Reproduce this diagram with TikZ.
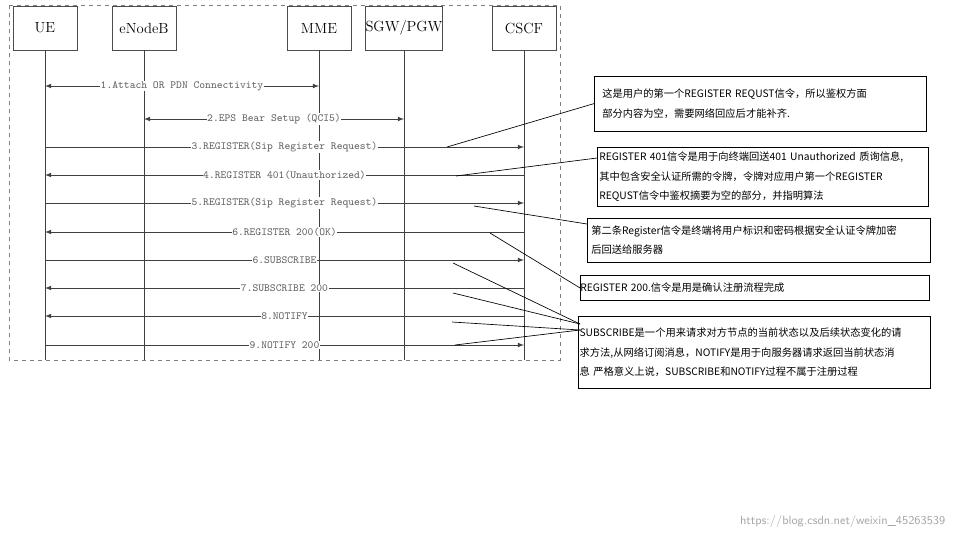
\documentclass[tikz,border=0pt]{standalone}
\usepackage{fontspec}
\newfontfamily\cjk{Noto Sans CJK SC}
\usetikzlibrary{arrows}
\usetikzlibrary{shapes}

\begin{document}
\begin{tikzpicture}[x = 0.75pt, y = -0.75pt, font=\ttfamily]
\tikzstyle{EntStyle} = [draw = black!70, minimum width = 48pt, minimum height = 33pt, font = \rmfamily\fontsize{11}{12}\selectfont, inner sep = 0pt]
\tikzstyle{MsgStyle} = [black!75, line width = 0.6pt, >=latex]
\tikzstyle{LblStyle} = [fill = white, text = black!60, font = \ttfamily\fontsize{8.2}{9}\selectfont, inner sep = 0.5pt]
\tikzstyle{NoteStyle} = [draw, anchor = north west, align = left, font = \cjk\fontsize{7.7}{14.5}\selectfont, inner ysep = 3pt, inner xsep = 0pt]
\tikzstyle{LinkStyle} = [line width = 0.5pt]
\useasboundingbox (0,0) rectangle (960,540);
\draw [black!50, dashed] (9,5) rectangle (560,360);
% entities
\node[EntStyle] (ue) at (45,28) {UE};
\node[EntStyle] (enb) at (144,28) {eNodeB};
\node[EntStyle] (mme) at (319,28) {MME};
\node[EntStyle] (sgw) at (404,28) {SGW/PGW};
\node[EntStyle] (cscf) at (524,28) {CSCF};
\foreach \e/\x in {ue/45, enb/144, mme/319, sgw/404, cscf/524}{
  \coordinate (\e end) at (\x,360);
  \draw [black!75] (\e) -- (\e end);
}
% messages
\coordinate (m1a) at (45,86); \coordinate (m1b) at (319,86);
\coordinate (m2a) at (144,119); \coordinate (m2b) at (404,119);
\draw [MsgStyle, <->] (m1a) -- node[LblStyle]{1.Attach OR PDN Connectivity} (m1b);
\draw [MsgStyle, <->] (m2a) -- node[LblStyle]{2.EPS Bear Setup (QCI5)} (m2b);
\foreach \y/\d/\t/\n in {147/->/3.REGISTER(Sip Register Request)/m3,
                         175/<-/4.REGISTER 401(Unauthorized)/m4,
                         203/->/5.REGISTER(Sip Register Request)/m5,
                         232/<-/6.REGISTER 200(OK)/m6,
                         260/->/6.SUBSCRIBE/m7,
                         288/<-/7.SUBSCRIBE 200/m8,
                         316/<-/8.NOTIFY/m9,
                         345/->/9.NOTIFY 200/m10}{
  \coordinate (\n a) at (45,\y); \coordinate (\n b) at (524,\y);
  \draw [MsgStyle, \d] (\n a) -- node[LblStyle, pos = 0.5]{\t} (\n b);
}
% notes
\node[NoteStyle, text width = 237pt, minimum height = 41pt, inner xsep = 6pt] (n1) at (594,76)
  {这是用户的第一个REGISTER REQUST信令，所以鉴权方面\\部分内容为空，需要网络回应后才能补齐.};
\node[NoteStyle, text width = 245pt, minimum height = 44pt, inner xsep = 1.5pt, inner ysep = 1.5pt] (n2) at (597,147)
  {REGISTER 401信令是用于向终端回送401 Unauthorized 质询信息,\\其中包含安全认证所需的令牌，令牌对应用户第一个REGISTER\\REQUST信令中鉴权摘要为空的部分，并指明算法};
\node[NoteStyle, text width = 251pt, minimum height = 33pt, inner xsep = 3pt] (n3) at (587,218)
  {第二条Register信令是终端将用户标识和密码根据安全认证令牌加密\\后回送给服务器};
\node[NoteStyle, text width = 262pt, minimum height = 19pt, inner ysep = 1pt, anchor = north west] (n4) at (580,275)
  {REGISTER 200.信令是用是确认注册流程完成\\[-6pt]};
\node[NoteStyle, text width = 262pt, minimum height = 54pt, inner xsep = 1pt, inner ysep = 1.5pt] (n5) at (578,316)
  {SUBSCRIBE是一个用来请求对方节点的当前状态以及后续状态变化的请\\求方法,从网络订阅消息，NOTIFY是用于向服务器请求返回当前状态消\\息 严格意义上说，SUBSCRIBE和NOTIFY过程不属于注册过程\\[-4pt]};
% callout lines
\coordinate (c1) at (447,147); \coordinate (c2) at (456,176);
\coordinate (c3) at (474,206); \coordinate (c4) at (490,233);
\coordinate (c5) at (453,263); \coordinate (c6) at (453,293);
\coordinate (c7) at (452,322); \coordinate (c8) at (455,345);
\coordinate (t5) at (580,324); \coordinate (t6) at (580,330);
\draw [LinkStyle] (c1) -- (n1.west);
\draw [LinkStyle] (c2) -- (597,158);
\draw [LinkStyle] (c3) -- (587,224);
\draw [LinkStyle] (c4) -- (n4.west);
\draw [LinkStyle] (c5) -- (t5);
\draw [LinkStyle] (c6) -- (t5);
\draw [LinkStyle] (c7) -- (t6);
\draw [LinkStyle] (c8) -- (t6);
\node[text = black!35, font = \sffamily\small, anchor = east] (wm) at (950,521) {https://blog.csdn.net/weixin\_45263539};
\end{tikzpicture}
\end{document}
